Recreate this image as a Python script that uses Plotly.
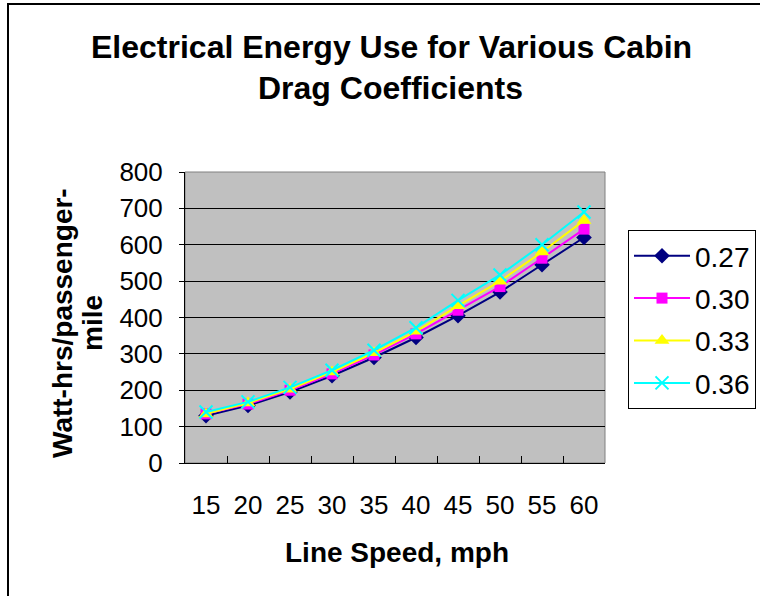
import plotly.graph_objects as go

# Line speed categories (mph)
speeds = ["15", "20", "25", "30", "35", "40", "45", "50", "55", "60"]

# Electrical energy use (Watt-hrs/passenger-mile) per cabin drag coefficient
cd_027 = [130, 158, 195, 240, 290, 345, 405, 470, 545, 620]
cd_030 = [135, 162, 200, 245, 297, 355, 420, 485, 563, 643]
cd_033 = [135, 165, 203, 250, 303, 362, 432, 500, 580, 667]
cd_036 = [140, 168, 208, 255, 310, 372, 447, 517, 600, 690]

series_names = ["0.27", "0.30", "0.33", "0.36"]
series_values = [cd_027, cd_030, cd_033, cd_036]
series_colors = ["#000080", "#FF00FF", "#FFFF00", "#00FFFF"]
series_symbols = ["diamond", "square", "triangle-up", "x-thin"]
series_sizes = [12, 11, 13, 13]

FONT = "Liberation Sans, Arial, sans-serif"

fig = go.Figure()
for name, vals, color, sym, size in zip(series_names, series_values,
                                        series_colors, series_symbols, series_sizes):
    marker = dict(symbol=sym, size=size, color=color)
    if sym == "x-thin":
        marker["line"] = dict(color=color, width=2)
    fig.add_trace(go.Scatter(
        x=speeds, y=vals, name=name, mode="lines+markers",
        line=dict(color=color, width=2), marker=marker,
        legendgroup=name,
    ))

# plot area: x 185..605 px, y 172..463 px
L, R, T, B = 185, 155, 172, 133
W, H = 760, 596
pw, ph = W - L - R, H - T - B


def px(x):
    return (x - L) / pw


def py(y):
    return (H - B - y) / ph


annotations = [
    dict(text="<b>Electrical Energy Use for Various Cabin</b>", x=px(391), y=py(47),
         font=dict(size=32)),
    dict(text="<b>Drag Coefficients</b>", x=px(390), y=py(88), font=dict(size=32)),
    dict(text="<b>Watt-hrs/passenger-</b>", x=px(62), y=py(323), textangle=-90,
         font=dict(size=28)),
    dict(text="<b>mile</b>", x=px(92), y=py(323), textangle=-90, font=dict(size=28)),
    dict(text="<b>Line Speed, mph</b>", x=px(397), y=py(552), font=dict(size=28)),
]
for a in annotations:
    a.update(xref="paper", yref="paper", showarrow=False,
             xanchor="center", yanchor="middle")
    a["font"].update(family=FONT, color="black")

shapes = [
    # gray frame around plot area
    dict(type="rect", xref="paper", yref="paper", x0=0, x1=1, y0=0, y1=1,
         line=dict(color="#808080", width=1), layer="below"),
    # chart border (left and top edges)
    dict(type="line", xref="paper", yref="paper", x0=px(8), x1=px(8),
         y0=py(3), y1=py(600), line=dict(color="black", width=2)),
    dict(type="line", xref="paper", yref="paper", x0=px(7), x1=px(770),
         y0=py(4), y1=py(4), line=dict(color="black", width=2)),
]

fig.update_layout(
    width=W, height=H,
    margin=dict(l=L, r=R, t=T, b=B, pad=0, autoexpand=False),
    paper_bgcolor="white",
    plot_bgcolor="#C0C0C0",
    font=dict(family=FONT, color="black", size=26),
    annotations=annotations,
    shapes=shapes,
    showlegend=True,
    legend=dict(
        x=px(628), y=py(230), xanchor="left", yanchor="top",
        bordercolor="black", borderwidth=1, bgcolor="white",
        font=dict(size=28, family=FONT, color="black"),
        tracegroupgap=3, itemwidth=56,
    ),
    xaxis=dict(
        type="category", tickson="boundaries", ticks="inside", ticklen=7,
        tickcolor="black", showline=True, linecolor="black", linewidth=1,
        showgrid=False, tickfont=dict(size=26), ticklabelstandoff=19,
        range=[-0.5, 9.5],
    ),
    yaxis=dict(
        range=[0, 800], dtick=100, ticks="outside", ticklen=5, tickcolor="black",
        showline=True, linecolor="black", linewidth=1,
        showgrid=True, gridcolor="black", gridwidth=1, zeroline=False,
        tickfont=dict(size=26), ticklabelstandoff=11,
    ),
)

fig.write_html("out.html")
